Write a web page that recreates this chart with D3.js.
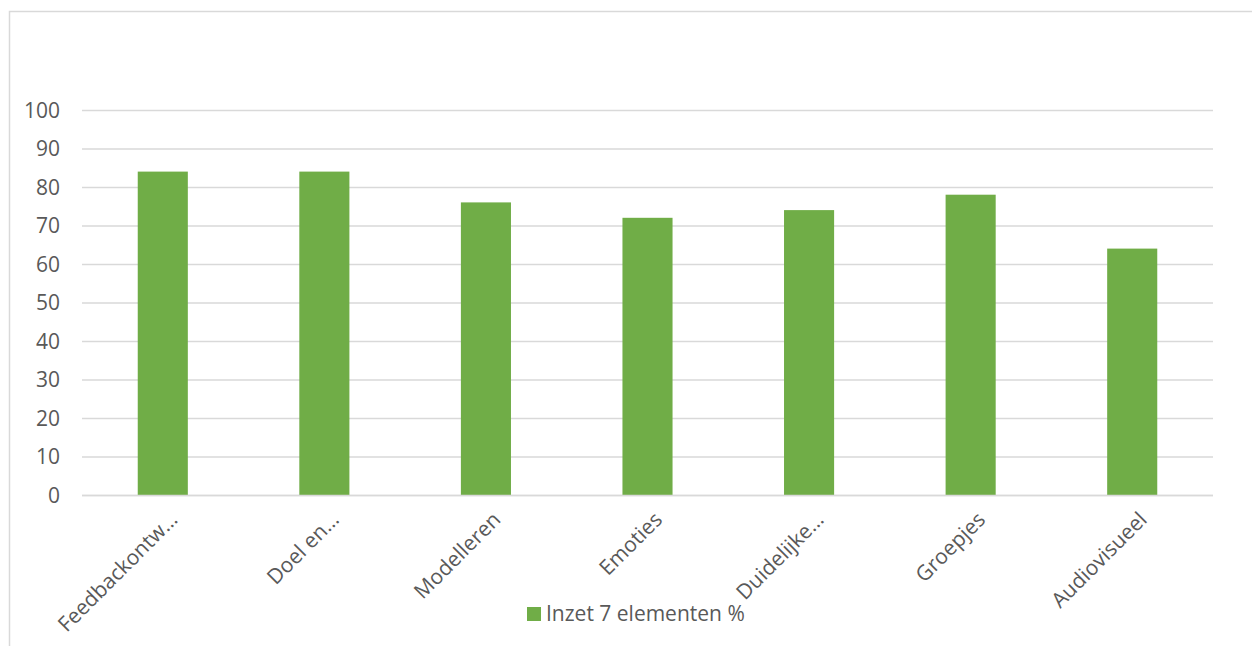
<!DOCTYPE html>
<html><head><meta charset="utf-8">
<script src="https://cdn.jsdelivr.net/npm/d3@7"></script>
<style>body{margin:0;background:#fff;}svg{display:block;font-family:"Open Sans",sans-serif;}</style>
</head><body>
<svg id="c" width="1252" height="646"></svg>
<script>
const categories = ["Feedbackontw…","Doel en…","Modelleren","Emoties","Duidelijke…","Groepjes","Audiovisueel"];
const values = [84,84,76,72,74,78,64];
const yTicks = [0,10,20,30,40,50,60,70,80,90,100];
const seriesName = "Inzet 7 elementen %";

const svg = d3.select("#c");
svg.append("rect").attr("x",9.5).attr("y",11.5).attr("width",1260).attr("height",660)
  .attr("fill","none").attr("stroke","#d9d9d9").attr("stroke-width",1.5);

const m = {l:82, r:1213, t:110, b:495};
const x = d3.scaleBand().domain(categories).range([m.l,m.r]).paddingInner(0.69).paddingOuter(0.345);
const y = d3.scaleLinear().domain([0,100]).range([m.b,m.t]);

const g = svg.append("g");
g.selectAll("line.grid").data(yTicks).join("line")
  .attr("x1",m.l).attr("x2",m.r).attr("y1",d=>y(d)+0.5).attr("y2",d=>y(d)+0.5)
  .attr("stroke","#d9d9d9").attr("stroke-width",1.3);

const yAxis = g.append("g").attr("transform",`translate(${m.l},0)`)
  .call(d3.axisLeft(y).tickValues(yTicks).tickSize(0).tickPadding(22));
yAxis.select(".domain").remove();
yAxis.selectAll("text").attr("fill","#595959").style("font-size","21px").style("font-family","'Open Sans',sans-serif").attr("dy","0.35em");

g.selectAll("rect.bar").data(values).join("rect")
  .attr("x",(d,i)=>x(categories[i])).attr("width",x.bandwidth())
  .attr("y",d=>y(d)).attr("height",d=>y(0)-y(d)).attr("fill","#70ad47");

g.append("line").attr("x1",m.l).attr("x2",m.r).attr("y1",y(0)+0.5).attr("y2",y(0)+0.5)
  .attr("stroke","#d9d9d9").attr("stroke-width",1.5);

const xAxis = g.append("g").attr("transform",`translate(0,${m.b})`)
  .call(d3.axisBottom(x).tickSize(0).tickPadding(0));
xAxis.select(".domain").remove();
xAxis.selectAll("text")
  .attr("fill","#595959").style("font-size","21px").style("font-family","'Open Sans',sans-serif")
  .attr("text-anchor","end").attr("dy","0")
  .attr("transform","translate(16,26) rotate(-45)");

const lg = svg.append("g");
lg.append("rect").attr("x",527).attr("y",607).attr("width",14).attr("height",14).attr("fill","#70ad47");
lg.append("text").attr("x",546).attr("y",621).text(seriesName)
  .attr("fill","#595959").style("font-size","21px");
</script>
</body></html>
